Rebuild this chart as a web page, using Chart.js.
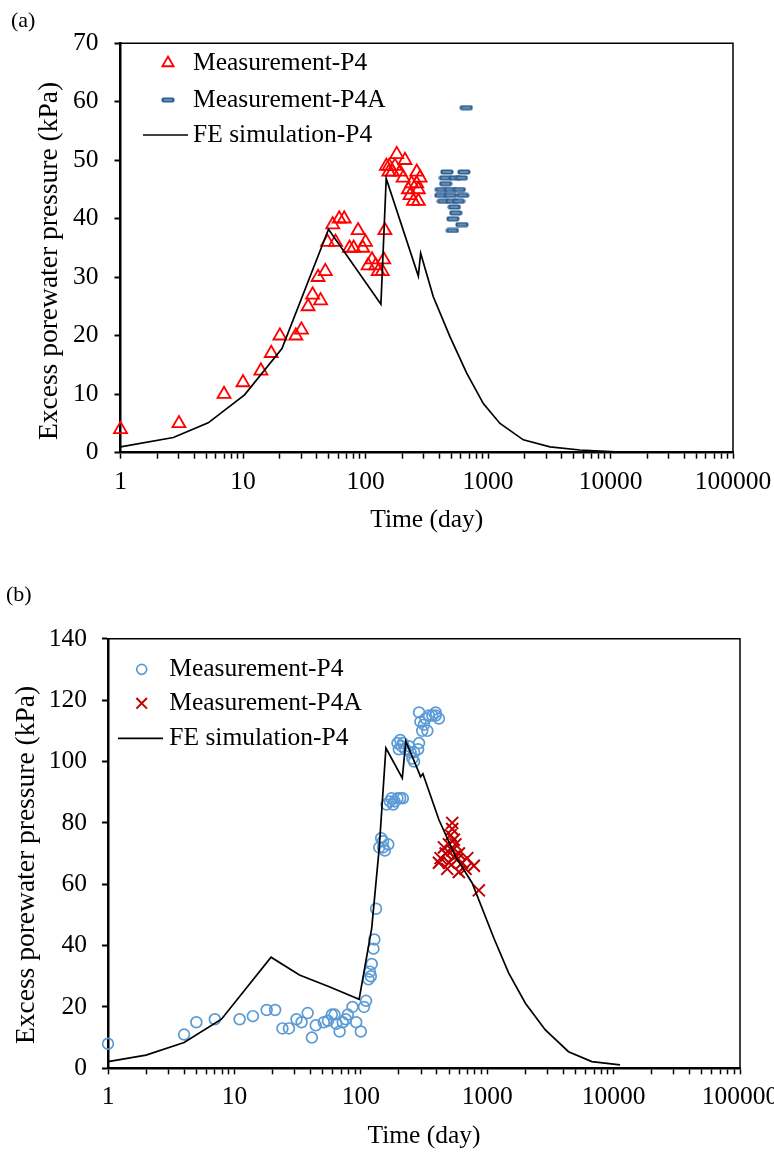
<!DOCTYPE html>
<html>
<head>
<meta charset="utf-8">
<script src="https://cdn.jsdelivr.net/npm/chart.js@4.4.0/dist/chart.umd.min.js"></script>
<style>
    html, body { margin: 0; padding: 0; background: #ffffff; overflow: hidden; }
    body { width: 774px; height: 1154px; position: relative; }
    canvas { position: absolute; left: 0; }
    #chartA { top: 0; }
    #chartB { top: 570px; }
    .panel-tag { position: absolute; font: 22px "Liberation Serif", "Times New Roman", serif; color: #000; }
</style>
</head>
<body>
<canvas id="chartA" width="820" height="570"></canvas>
<canvas id="chartB" width="820" height="584"></canvas>
<div class="panel-tag" style="left:11px; top:7px">(a)</div>
<div class="panel-tag" style="left:6px; top:581px">(b)</div>
<script>
// panel (a)
const daysA_P4 = [1, 3, 7, 10, 14, 17, 20, 27, 30, 34,
    37, 43, 41, 47, 49, 57, 54, 61, 67, 74,
    80, 87, 95, 100, 105, 113, 121, 127, 137, 141,
    144, 148, 155, 156, 166, 174, 180, 191, 203, 210,
    224, 231, 238, 246, 262, 262, 270, 270, 279];
const kPaA_P4 = [4, 5, 10, 12, 14, 17, 20, 20, 21, 25,
    27, 26, 30, 31, 36, 36, 39, 40, 40, 35,
    35, 38, 35, 36, 32, 33, 32, 31, 31, 33,
    38, 49, 48, 49, 48, 49, 51, 48, 47, 50,
    45, 44, 46, 43, 48, 46, 45, 43, 47];
const daysA_P4A = [665, 462, 636, 449, 538, 606, 451, 416, 493, 583,
    412, 493, 620, 433, 507, 575, 531, 545, 517, 612, 512];
const kPaA_P4A = [59, 48, 48, 47, 47, 47, 46, 45, 45, 45,
    44, 44, 44, 43, 43, 43, 42, 41, 40, 39, 38];
const daysA_FE = [1, 2.7, 5.2, 10.3, 20.8, 49.9, 133.6, 147.6, 270, 282,
    357, 490, 670, 916, 1253, 1941, 3207, 5637, 12000];
const kPaA_FE = [1, 2.6, 5.1, 9.9, 17.8, 38.2, 25.4, 46.9, 30.2, 34.1,
    26.7, 19.8, 13.6, 8.4, 5.0, 2.2, 1.0, 0.46, 0.1];

// panel (b)
const daysB_P4 = [1, 4, 5, 7, 11, 14, 18, 21, 24, 27,
    31, 34, 38, 41, 44, 51, 55, 59, 62, 64,
    68, 72, 76, 79, 86, 92, 100, 106, 110, 115,
    118, 120, 122, 126, 128, 132, 140, 145, 150, 150,
    155, 165, 160, 170, 175, 180, 185, 195, 205, 215,
    195, 205, 210, 200, 215, 225, 240, 248, 256, 264,
    264, 284, 289, 289, 296, 306, 316, 325, 336, 346,
    368, 391, 391, 415];
const kPaB_P4 = [8, 11, 15, 16, 16, 17, 19, 19, 13, 13,
    16, 15, 18, 10, 14, 15, 15.5, 17.5, 17.5, 14.5,
    12, 15, 16, 17.5, 20, 15, 12, 20, 22, 29,
    31.5, 30, 34, 39, 42, 52, 72, 75, 74, 72,
    71, 73, 86, 87, 88, 86, 87, 88, 88, 88,
    106, 107, 105, 104, 106, 104, 105, 103, 101, 100,
    103, 104, 106, 116, 113, 110, 112, 114, 110, 115,
    115, 116, 115, 114];
const daysB_P4A = [529, 529, 514, 545, 498, 560, 455, 529, 469, 597,
    545, 428, 575, 695, 498, 634, 415, 784, 674, 483, 597, 859];
const kPaB_P4A = [80, 78, 76, 74.5, 73, 73, 72, 71, 70, 70,
    69, 68.5, 68, 68.5, 67, 67, 67, 66, 65, 65, 64, 58];
const daysB_FE = [1, 2, 4, 7.9, 19.5, 32.7, 56.3, 97, 122, 140,
    158, 213, 227, 289, 297, 310, 415, 562, 760, 1130,
    1480, 2005, 2884, 4400, 6720, 11250];
const kPaB_FE = [2.2, 4.3, 8.4, 16, 36.2, 30.4, 26.6, 22.5, 45.7, 72,
    104.4, 94.6, 106.6, 96.3, 95, 96, 81, 69, 60.4, 42.4,
    31, 21.2, 12.5, 5.4, 2.2, 1.1];

// axes
const timeDecades = [1, 10, 100, 1000, 10000, 100000];
const pressureTicksA = [0, 10, 20, 30, 40, 50, 60, 70];
const pressureTicksB = [0, 20, 40, 60, 80, 100, 120, 140];

const FONT = '"Liberation Serif", "Times New Roman", serif';
const TEXT_SIZE = 25.5;
const Y_TITLE_SIZE = 27.5;

function pairs(xs, ys) {
    return xs.map((x, i) => ({ x: x, y: ys[i] }));
}

function logTicks() {
    const out = [];
    timeDecades.forEach((d, i) => {
        if (i === timeDecades.length - 1) {
            out.push({ value: d, major: true });
            return;
        }
        for (let k = 1; k < 10; k++) {
            out.push({ value: d * k, major: k === 1 });
        }
    });
    return out;
}

// Excel style dash marker
function dashMarker() {
    const c = document.createElement('canvas');
    c.width = 14;
    c.height = 6;
    const g = c.getContext('2d');
    g.fillStyle = '#2f6193';
    g.beginPath();
    g.roundRect(0.5, 0.5, 13, 5, 2);
    g.fill();
    g.strokeStyle = '#9ab7d5';
    g.lineWidth = 1;
    g.beginPath();
    g.moveTo(3, 3);
    g.lineTo(11, 3);
    g.stroke();
    return c;
}

const framePlugin = {
    id: 'frame',
    afterDraw(chart) {
        const { ctx, chartArea: a } = chart;
        ctx.save();
        ctx.strokeStyle = '#000';
        ctx.lineWidth = 1.5;
        ctx.beginPath();
        ctx.moveTo(a.left, a.top);
        ctx.lineTo(a.right, a.top);
        ctx.lineTo(a.right, a.bottom);
        ctx.stroke();
        ctx.restore();
    }
};

const yTitlePlugin = {
    id: 'yTitle',
    afterDraw(chart, args, opts) {
        const ctx = chart.ctx;
        ctx.save();
        ctx.translate(opts.x, opts.y);
        ctx.rotate(-Math.PI / 2);
        ctx.font = Y_TITLE_SIZE + 'px ' + FONT;
        ctx.fillStyle = '#000';
        ctx.textAlign = 'center';
        ctx.textBaseline = 'middle';
        ctx.fillText(opts.text, 0, 0);
        ctx.restore();
    }
};

const insideLegendPlugin = {
    id: 'insideLegend',
    afterDraw(chart, args, opts) {
        const ctx = chart.ctx;
        ctx.save();
        chart.data.datasets.forEach((ds, i) => {
            const y = opts.rows[i];
            if (ds.showLine) {
                ctx.strokeStyle = ds.borderColor;
                ctx.lineWidth = ds.borderWidth;
                ctx.beginPath();
                ctx.moveTo(opts.lineFrom, y);
                ctx.lineTo(opts.lineTo, y);
                ctx.stroke();
            } else {
                ctx.strokeStyle = ds.pointBorderColor;
                ctx.fillStyle = 'rgba(0,0,0,0)';
                ctx.lineWidth = ds.pointBorderWidth;
                Chart.helpers.drawPoint(ctx, {
                    pointStyle: ds.pointStyle,
                    radius: ds.legendRadius || ds.pointRadius,
                    borderWidth: ds.pointBorderWidth,
                    rotation: 0
                }, opts.markerX, y);
            }
            ctx.font = TEXT_SIZE + 'px ' + FONT;
            ctx.fillStyle = '#000';
            ctx.textAlign = 'left';
            ctx.textBaseline = 'middle';
            ctx.fillText(ds.label, opts.textX, y);
        });
        ctx.restore();
    }
};

function markerSet(label, xs, ys, style, radius, color, width, legendRadius) {
    return {
        label: label,
        data: pairs(xs, ys),
        pointStyle: style,
        pointRadius: radius,
        legendRadius: legendRadius,
        pointBorderWidth: width,
        pointBorderColor: color,
        pointBackgroundColor: 'rgba(0,0,0,0)',
        borderColor: color,
        backgroundColor: 'rgba(0,0,0,0)',
        showLine: false,
        clip: false,
        order: 2
    };
}

function lineSet(label, xs, ys) {
    return {
        label: label,
        data: pairs(xs, ys),
        showLine: true,
        pointRadius: 0,
        borderColor: '#000000',
        borderWidth: 1.7,
        tension: 0,
        fill: false,
        clip: false,
        order: 1
    };
}

function buildChart(id, p) {
    const tickFont = { family: FONT, size: TEXT_SIZE };
    return new Chart(document.getElementById(id), {
        type: 'scatter',
        data: { datasets: p.datasets },
        options: {
            responsive: false,
            animation: false,
            devicePixelRatio: 1,
            events: [],
            layout: { padding: { top: p.top, right: p.right, left: 0, bottom: 0 } },
            plugins: {
                legend: { display: false },
                tooltip: { enabled: false },
                insideLegend: p.legend,
                yTitle: p.yTitle
            },
            scales: {
                x: {
                    type: 'logarithmic',
                    min: timeDecades[0],
                    max: timeDecades[timeDecades.length - 1],
                    afterBuildTicks: s => { s.ticks = logTicks(); },
                    afterFit: s => { s.height = p.xHeight; },
                    grid: { drawOnChartArea: false, tickLength: 6, tickWidth: 1.5, tickColor: '#000' },
                    border: { display: true, color: '#000', width: 2.5 },
                    ticks: {
                        autoSkip: false,
                        maxRotation: 0,
                        padding: 8,
                        color: '#000',
                        font: tickFont,
                        callback: v => timeDecades.includes(v) ? String(v) : ''
                    },
                    title: {
                        display: true,
                        text: 'Time (day)',
                        color: '#000',
                        font: tickFont,
                        padding: { top: 0, bottom: p.xTitlePad }
                    }
                },
                y: {
                    type: 'linear',
                    min: p.yTicks[0],
                    max: p.yTicks[p.yTicks.length - 1],
                    afterBuildTicks: s => { s.ticks = p.yTicks.map(v => ({ value: v })); },
                    afterFit: s => { s.width = p.left; },
                    grid: { drawOnChartArea: false, tickLength: 6, tickWidth: 2, tickColor: '#000' },
                    border: { display: true, color: '#000', width: 2.5 },
                    ticks: { padding: p.yPad, color: '#000', font: tickFont }
                }
            }
        },
        plugins: [framePlugin, insideLegendPlugin, yTitlePlugin]
    });
}

document.addEventListener('DOMContentLoaded', () => {
    buildChart('chartA', {
        datasets: [
            markerSet('Measurement-P4', daysA_P4, kPaA_P4, 'triangle', 7.5, '#ff0000', 1.8, 6.5),
            markerSet('Measurement-P4A', daysA_P4A, kPaA_P4A, dashMarker(), 6, '#2f6193', 1),
            lineSet('FE simulation-P4', daysA_FE, kPaA_FE)
        ],
        top: 43.3,
        right: 820 - 733,
        left: 120.5,
        xHeight: 570 - 452.7,
        xTitlePad: 34.7,
        yTicks: pressureTicksA,
        yPad: 16,
        legend: { rows: [63, 100, 135], markerX: 168, textX: 193, lineFrom: 143, lineTo: 188 },
        yTitle: { text: 'Excess porewater pressure (kPa)', x: 50, y: 261 }
    });

    buildChart('chartB', {
        datasets: [
            markerSet('Measurement-P4', daysB_P4, kPaB_P4, 'circle', 5.4, '#5b9bd5', 1.7, 5),
            markerSet('Measurement-P4A', daysB_P4A, kPaB_P4A, 'crossRot', 8.5, '#c00000', 2, 7.5),
            lineSet('FE simulation-P4', daysB_FE, kPaB_FE)
        ],
        top: 638.8 - 570,
        right: 820 - 740,
        left: 108,
        xHeight: 584 - 498.3,
        xTitlePad: 2,
        yTicks: pressureTicksB,
        yPad: 15,
        legend: { rows: [99.3, 133.3, 168.3], markerX: 141.7, textX: 169.3, lineFrom: 118, lineTo: 163 },
        yTitle: { text: 'Excess porewater pressure (kPa)', x: 27, y: 295 }
    });
});
</script>
</body>
</html>
